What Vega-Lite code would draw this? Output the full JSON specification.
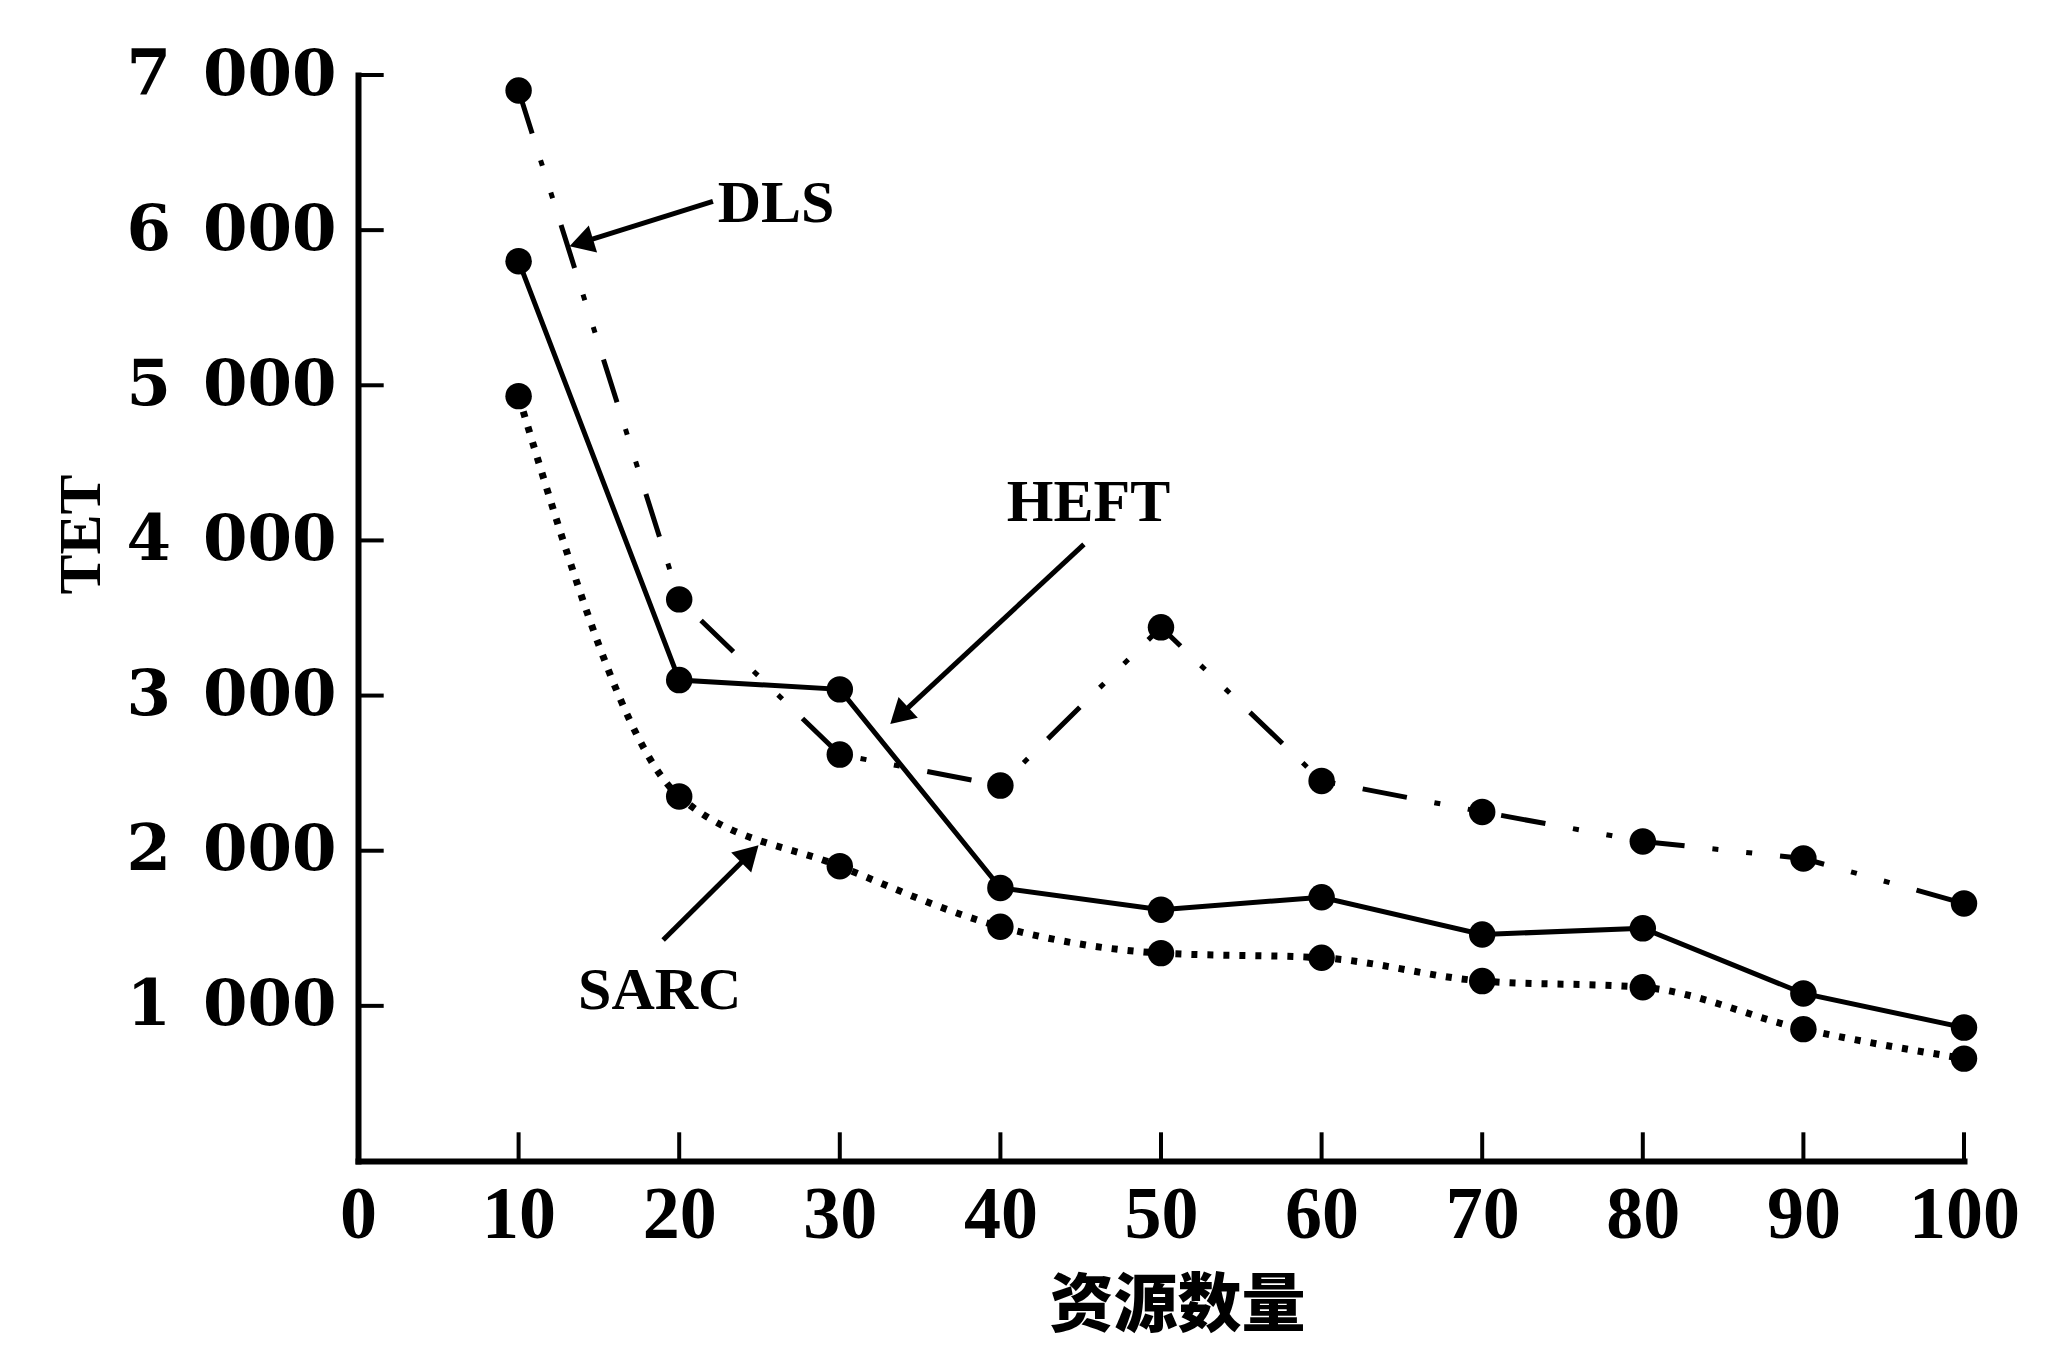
{
  "$schema": "https://vega.github.io/schema/vega-lite/v6.json",
  "autosize": {"type": "none"},
  "width": 1606,
  "height": 1086,
  "padding": {"left": 358, "top": 75, "right": 92, "bottom": 187},
  "background": "white",
  "config": {"view": {"stroke": null}},
  "datasets": {
    "series": [
      {"resources": 10, "tet": 6900, "algo": "DLS"},
      {"resources": 20, "tet": 3620, "algo": "DLS"},
      {"resources": 30, "tet": 2620, "algo": "DLS"},
      {"resources": 40, "tet": 2420, "algo": "DLS"},
      {"resources": 50, "tet": 3440, "algo": "DLS"},
      {"resources": 60, "tet": 2450, "algo": "DLS"},
      {"resources": 70, "tet": 2250, "algo": "DLS"},
      {"resources": 80, "tet": 2060, "algo": "DLS"},
      {"resources": 90, "tet": 1950, "algo": "DLS"},
      {"resources": 100, "tet": 1660, "algo": "DLS"},
      {"resources": 10, "tet": 5800, "algo": "HEFT"},
      {"resources": 20, "tet": 3100, "algo": "HEFT"},
      {"resources": 30, "tet": 3040, "algo": "HEFT"},
      {"resources": 40, "tet": 1760, "algo": "HEFT"},
      {"resources": 50, "tet": 1620, "algo": "HEFT"},
      {"resources": 60, "tet": 1700, "algo": "HEFT"},
      {"resources": 70, "tet": 1460, "algo": "HEFT"},
      {"resources": 80, "tet": 1500, "algo": "HEFT"},
      {"resources": 90, "tet": 1080, "algo": "HEFT"},
      {"resources": 100, "tet": 860, "algo": "HEFT"},
      {"resources": 10, "tet": 4930, "algo": "SARC"},
      {"resources": 20, "tet": 2350, "algo": "SARC"},
      {"resources": 30, "tet": 1900, "algo": "SARC"},
      {"resources": 40, "tet": 1510, "algo": "SARC"},
      {"resources": 50, "tet": 1340, "algo": "SARC"},
      {"resources": 60, "tet": 1310, "algo": "SARC"},
      {"resources": 70, "tet": 1160, "algo": "SARC"},
      {"resources": 80, "tet": 1120, "algo": "SARC"},
      {"resources": 90, "tet": 850, "algo": "SARC"},
      {"resources": 100, "tet": 660, "algo": "SARC"}
    ],
    "xticks": [
      {"t": 10}, {"t": 20}, {"t": 30}, {"t": 40}, {"t": 50},
      {"t": 60}, {"t": 70}, {"t": 80}, {"t": 90}, {"t": 100}
    ],
    "yticks": [
      {"t": 1000}, {"t": 2000}, {"t": 3000}, {"t": 4000},
      {"t": 5000}, {"t": 6000}, {"t": 7000}
    ],
    "arrows": [
      {"label": "DLS", "x": 22.1, "y": 6186, "x2": 13.6, "y2": 5910},
      {"label": "HEFT", "x": 45.2, "y": 3975, "x2": 33.4, "y2": 2840},
      {"label": "SARC", "x": 19.0, "y": 1424, "x2": 24.7, "y2": 2010}
    ],
    "heads": [
      {"label": "DLS", "x": 13.9, "y": 5920},
      {"label": "HEFT", "x": 33.7, "y": 2870},
      {"label": "SARC", "x": 24.4, "y": 1980}
    ],
    "labels": [
      {"text": "DLS", "x": 22.4, "y": 6166},
      {"text": "HEFT", "x": 40.4, "y": 4240},
      {"text": "SARC", "x": 13.7, "y": 1095}
    ]
  },
  "layer": [
    {
      "data": {"name": "series"},
      "transform": [{"filter": "datum.algo === 'DLS'"}],
      "mark": {"type": "line", "color": "black", "strokeWidth": 5, "strokeDash": [45, 28, 6, 28, 6, 28]},
      "encoding": {
        "x": {
          "field": "resources", "type": "quantitative",
          "scale": {"domain": [0, 100], "nice": false, "zero": true},
          "axis": {
            "values": [0, 10, 20, 30, 40, 50, 60, 70, 80, 90, 100],
            "grid": false, "ticks": false,
            "domainColor": "black", "domainWidth": 6, "domainCap": "square",
            "labelFont": "Liberation Serif", "labelFontWeight": "bold", "labelFontSize": 74,
            "labelColor": "black", "labelPadding": 18, "labelFlush": false, "labelOverlap": false,
            "title": "资源数量",
            "titleFont": "Noto Sans CJK SC", "titleFontWeight": 900, "titleFontSize": 64,
            "titleColor": "black", "titlePadding": 22, "titleX": 819
          }
        },
        "y": {
          "field": "tet", "type": "quantitative",
          "scale": {"domain": [0, 7000], "nice": false, "zero": true},
          "axis": {
            "values": [1000, 2000, 3000, 4000, 5000, 6000, 7000],
            "labelExpr": "floor(datum.value / 1000) + '\u2002000'",
            "grid": false, "ticks": false,
            "domainColor": "black", "domainWidth": 6, "domainCap": "square",
            "labelFont": "DejaVu Serif", "labelFontWeight": "bold", "labelFontSize": 64,
            "labelColor": "black", "labelPadding": 22, "labelLimit": 600,
            "title": "TET",
            "titleFont": "Liberation Serif", "titleFontWeight": "bold", "titleFontSize": 60,
            "titleColor": "black", "titleAngle": 270, "titleAlign": "center", "titleBaseline": "middle",
            "titleX": -277, "titleY": 459
          }
        }
      }
    },
    {
      "data": {"name": "xticks"},
      "mark": {"type": "rule", "color": "black", "strokeWidth": 4},
      "encoding": {
        "x": {"field": "t", "type": "quantitative"},
        "y": {"datum": 0, "type": "quantitative"},
        "y2": {"datum": 185}
      }
    },
    {
      "data": {"name": "yticks"},
      "mark": {"type": "rule", "color": "black", "strokeWidth": 4},
      "encoding": {
        "y": {"field": "t", "type": "quantitative"},
        "x": {"datum": 0, "type": "quantitative"},
        "x2": {"datum": 1.6}
      }
    },
    {
      "data": {"name": "series"},
      "transform": [{"filter": "datum.algo === 'HEFT'"}],
      "mark": {"type": "line", "color": "black", "strokeWidth": 5},
      "encoding": {
        "x": {"field": "resources", "type": "quantitative"},
        "y": {"field": "tet", "type": "quantitative"}
      }
    },
    {
      "data": {"name": "series"},
      "transform": [{"filter": "datum.algo === 'SARC'"}],
      "mark": {"type": "line", "color": "black", "strokeWidth": 7, "strokeDash": [6, 10], "interpolate": "monotone"},
      "encoding": {
        "x": {"field": "resources", "type": "quantitative"},
        "y": {"field": "tet", "type": "quantitative"}
      }
    },
    {
      "data": {"name": "series"},
      "mark": {"type": "point", "shape": "circle", "filled": true, "color": "black", "opacity": 1, "size": 700},
      "encoding": {
        "x": {"field": "resources", "type": "quantitative"},
        "y": {"field": "tet", "type": "quantitative"}
      }
    },
    {
      "data": {"name": "arrows"},
      "mark": {"type": "rule", "color": "black", "strokeWidth": 5},
      "encoding": {
        "x": {"field": "x", "type": "quantitative"},
        "y": {"field": "y", "type": "quantitative"},
        "x2": {"field": "x2"},
        "y2": {"field": "y2"}
      }
    },
    {
      "data": {"name": "heads"},
      "transform": [{"filter": "datum.label === 'DLS'"}],
      "mark": {"type": "point", "shape": "triangle-up", "filled": true, "color": "black", "opacity": 1, "size": 800, "angle": 253},
      "encoding": {
        "x": {"field": "x", "type": "quantitative"},
        "y": {"field": "y", "type": "quantitative"}
      }
    },
    {
      "data": {"name": "heads"},
      "transform": [{"filter": "datum.label === 'HEFT'"}],
      "mark": {"type": "point", "shape": "triangle-up", "filled": true, "color": "black", "opacity": 1, "size": 800, "angle": 227},
      "encoding": {
        "x": {"field": "x", "type": "quantitative"},
        "y": {"field": "y", "type": "quantitative"}
      }
    },
    {
      "data": {"name": "heads"},
      "transform": [{"filter": "datum.label === 'SARC'"}],
      "mark": {"type": "point", "shape": "triangle-up", "filled": true, "color": "black", "opacity": 1, "size": 800, "angle": 45},
      "encoding": {
        "x": {"field": "x", "type": "quantitative"},
        "y": {"field": "y", "type": "quantitative"}
      }
    },
    {
      "data": {"name": "labels"},
      "mark": {"type": "text", "align": "left", "baseline": "middle", "font": "Liberation Serif", "fontWeight": "bold", "fontSize": 60, "color": "black"},
      "encoding": {
        "x": {"field": "x", "type": "quantitative"},
        "y": {"field": "y", "type": "quantitative"},
        "text": {"field": "text"}
      }
    }
  ]
}
